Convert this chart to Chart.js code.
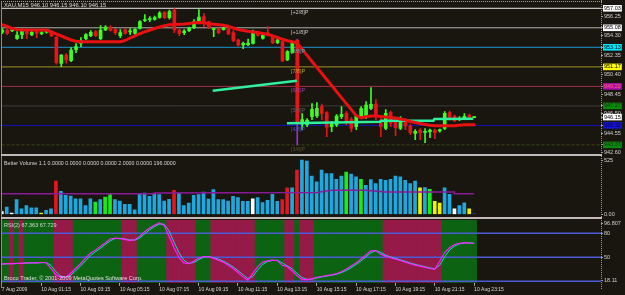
<!DOCTYPE html>
<html><head><meta charset="utf-8">
<script src="https://cdn.jsdelivr.net/npm/chart.js@4.4.1/dist/chart.umd.min.js"></script>
<style>
html,body{margin:0;padding:0;background:#18160e;width:625px;height:295px;overflow:hidden;position:relative;}
.p{position:absolute;left:0;width:625px;}
canvas{display:block;}
.ln{position:absolute;}
</style></head><body>
<div class="p" style="top:0;height:155px"><canvas id="main" width="625" height="155"></canvas></div>
<div class="p" style="top:155px;height:62px"><canvas id="vol" width="625" height="62"></canvas></div>
<div class="p" style="top:217px;height:78px"><canvas id="rsi" width="625" height="78"></canvas></div>
<div class="ln" style="left:1px;top:1px;width:601px;border-top:1px dotted #a0a0a0"></div>
<div class="ln" style="left:1px;top:1px;width:1px;height:287px;background:#8c8c8c"></div>
<div class="ln" style="left:601px;top:0;height:289px;border-left:1px dotted #9a9a9a"></div>
<div class="ln" style="left:1px;top:154px;width:601px;height:2px;background:#bcbcbc"></div>
<div class="ln" style="left:1px;top:217px;width:601px;height:2px;background:#c4b8b8"></div>
<script>
// ---------------- DATA ----------------
const X_TICK_AT = [0,8,16,24,32,40,48,56,64,72,80,88,96];
const X_TICK_LABELS = ["7 Aug 2009","10 Aug 01:15","10 Aug 03:15","10 Aug 05:15","10 Aug 07:15","10 Aug 09:15","10 Aug 11:15","10 Aug 13:15","10 Aug 15:15","10 Aug 17:15","10 Aug 19:15","10 Aug 21:15","10 Aug 23:15"];

const OPEN = [954.65,954.85,954.80,953.99,954.39,954.69,954.37,954.75,954.50,954.65,
954.70,954.13,951.53,952.35,951.80,952.90,953.53,953.99,954.30,954.70,
954.00,954.86,955.16,954.93,954.30,954.87,954.68,954.53,955.03,955.80,
955.90,955.92,956.13,956.63,956.10,956.86,954.86,954.60,954.80,955.10,
955.76,956.20,955.70,954.90,955.00,954.90,954.96,954.59,953.86,953.36,
953.40,953.53,954.60,954.03,954.60,954.19,953.60,953.69,951.86,952.63,
953.86,945.45,945.40,946.19,946.26,947.19,946.59,945.19,945.36,946.19,
946.53,945.92,945.19,946.30,946.19,947.03,947.46,945.86,945.03,946.63,
945.86,945.03,945.86,945.26,944.53,944.86,944.63,944.70,944.86,944.76,
945.03,946.59,946.26,945.90,946.10,946.36,946.10];
const HIGH = [955.00,955.00,955.00,954.69,954.95,954.80,954.75,954.85,954.70,954.85,
954.80,954.20,952.40,952.50,953.10,953.50,954.10,954.50,954.80,954.80,
955.30,955.30,955.30,955.00,954.90,955.00,955.00,955.00,955.80,956.40,
956.20,956.25,956.70,956.70,956.85,957.00,954.95,954.90,955.15,955.90,
956.90,956.50,955.75,955.00,955.05,955.15,955.00,954.80,953.95,953.65,
953.95,954.86,954.75,954.45,955.20,954.30,953.95,953.80,952.80,953.60,
953.95,946.50,946.00,947.50,947.60,947.45,946.70,945.70,946.40,947.20,
946.70,946.10,946.40,947.20,947.70,949.09,947.90,946.00,946.90,946.75,
946.00,946.20,946.00,945.40,944.90,945.00,945.00,944.95,944.95,944.95,
946.70,946.75,946.35,946.20,946.50,946.45,946.15];
const LOW = [954.50,954.40,954.70,953.93,954.00,954.00,954.30,954.10,954.40,954.55,
954.20,951.45,951.20,951.55,951.70,952.60,953.20,953.90,954.20,954.20,
953.90,954.80,954.75,954.40,954.10,954.45,954.40,954.40,954.95,955.70,
955.70,955.85,956.05,956.00,955.95,954.60,954.30,954.40,954.70,955.00,
955.70,955.20,955.00,954.20,954.50,954.85,954.40,953.70,953.25,953.00,
953.30,953.45,954.25,953.95,954.35,953.50,953.50,951.70,951.80,952.55,
943.36,944.90,945.20,945.90,946.10,945.90,944.20,944.70,945.20,946.00,
945.40,944.70,944.90,946.10,946.00,946.90,945.90,944.20,944.90,945.20,
944.30,944.90,944.90,944.40,943.90,943.90,943.60,944.10,944.00,944.65,
944.90,945.85,945.70,945.80,945.90,945.95,946.10];
const CLOSE = [954.85,954.53,954.85,954.36,954.76,954.46,954.63,954.53,954.60,954.72,
954.27,951.59,952.36,951.86,952.86,953.20,953.80,954.40,954.62,954.30,
954.86,955.16,954.83,954.60,954.60,954.53,954.72,954.93,955.69,955.90,
956.00,956.10,956.56,956.10,956.70,954.86,954.53,954.76,955.06,955.70,
956.16,955.60,955.10,954.95,954.60,955.03,954.46,953.79,953.36,953.53,
953.55,954.69,954.33,954.36,954.45,953.59,953.86,951.76,952.69,953.53,
945.69,945.90,945.85,946.93,947.03,946.53,945.13,945.53,946.26,946.43,
945.69,945.03,946.26,947.00,947.36,947.43,946.19,945.19,946.53,945.53,
945.09,945.99,945.26,944.59,944.73,944.60,944.73,944.86,944.60,944.90,
946.53,946.13,945.79,946.00,946.23,946.03,946.15];
const MA = [955.39,955.21,955.01,954.91,954.86,954.86,954.86,954.86,954.86,954.86,
954.66,954.46,954.26,954.06,953.86,953.73,953.69,953.69,953.69,953.69,
953.69,953.69,953.69,953.69,953.69,953.81,954.06,954.28,954.50,954.69,
954.84,955.01,955.16,955.28,955.38,955.41,955.43,955.45,955.51,955.58,
955.62,955.58,955.49,955.43,955.38,955.33,955.23,955.06,954.90,954.82,
954.73,954.66,954.60,954.51,954.41,954.28,954.11,953.93,953.78,953.68,
953.56,952.92,952.32,951.71,951.11,950.51,949.91,949.31,948.70,948.10,
947.50,946.90,946.30,946.06,946.18,946.26,946.26,946.21,946.16,946.11,
946.06,945.96,945.86,945.71,945.61,945.51,945.41,945.33,945.29,945.29,
945.29,945.29,945.29,945.34,945.38,945.39,945.39];
const GREEN_A_X = [42.8, 59.9];
const GREEN_A_Y = [948.79, 949.79];
const GREEN_B_X = [57.9, 76.9, 77.1, 87.7, 87.9, 95.8];
const GREEN_B_Y = [945.53, 945.69, 945.79, 945.79, 945.96, 945.98];

const MURREY_LEVELS = [957.03, 955.08, 953.13, 951.17, 949.22, 947.27, 945.32, 943.37];
const MURREY_NAMES = ["[+2/8]P","[+1/8]P","[8/8]P","[7/8]P","[6/8]P","[5/8]P","[4/8]P","[3/8]P"];
const PRICE_TICKS = [957.03,956.25,955.08,954.30,953.13,952.35,951.17,950.40,949.22,948.45,947.27,946.50,946.15,945.32,944.55,943.37,942.60];
const PRICE_TICK_LABELS = ["957.03","956.25","955.08","954.30","953.13","952.35","951.17","950.40","949.22","948.45","947.27","946.50","946.15","945.32","944.55","943.37","942.60"];

const VOLUME = [29,71,13,143,55,87,65,65,13,39,
55,321,224,185,178,152,152,87,152,120,
143,168,191,143,130,97,97,45,201,207,
175,201,191,130,146,233,207,87,110,185,
191,217,149,240,143,143,130,175,162,127,
127,152,162,114,136,194,127,143,256,256,
428,525,515,369,314,428,395,395,340,369,
408,389,363,340,282,337,298,340,330,340,
369,363,330,298,321,256,259,243,126,110,
256,194,55,87,113,55,10];
// n normal, c climax high, w climax low, h churn, l low volume, x current
const VOL_TYPE = "wnwnnnnnln"+"ncnnnnnnnh"+"nhhnnnnnnn"+"nnnnncnnnn"+"nnnnnnnnnn"+"nwnnnnnccn"+"cnnnnnnnnn"+"hnnhnnnnnn"+"nnnnnlnhll"+"nnwnnlx";
const VOL_MA_X = [0,31,31,64,67,74,78,92,92,96];
const VOL_MA_Y = [201,201,207,211,233,233,217,217,201,201];
const VOL_TICKS = [525, 0];
const VOL_TICK_LABELS = ["525","0.00"];

const RSI = [41.5,42,42,42.5,42.5,43,43,43,43.5,43.5,
36,28,25,25,30,36,42,49,55,59,
63.5,68,73,74,73.5,72.5,71,72,76,82,
86.5,90,93,90,76,62,50,43,42,45,
49,51,50.5,49,46.5,44,40,36,31,25.5,
21.5,30,38,44,45.5,46.5,46,40,38.5,33,
27,22.5,22.2,23,25,26,27,28,29.5,32,
35,39,43,48,53,58,58.5,54,51.5,49.5,
47.8,46,44,42,40.3,39,37.5,36,35,45,
56,62,66,67.5,68.5,67.8,67.363];
const RSI_SIGNAL = [41.5,41.8,42,42.2,42.5,42.8,43,43,43.3,43.5,
40,32,26.5,25,27.5,33,39,45.5,52,57,
61,66,70.5,73.5,73.8,73,71.8,71.5,74,79,
84.3,88.3,91.5,91.5,83,69,56,46.5,42.5,43.5,
47,50,50.8,49.8,47.8,45.3,42,38,33.5,28.3,
23.5,25.8,34,41,44.8,46,46.3,43,39.3,35.8,
30,24.8,22.4,22.6,24,25.5,26.5,27.5,28.8,30.8,
33.5,37,41,45.5,50.5,55.5,58.3,56.3,52.8,50.5,
48.7,46.9,45,43,41.2,39.7,38.3,36.8,35.5,40,
50.5,59,64,66.8,68,68.2,67.729];
const RSI_RED_ZONES = [[2,2],[4,4],[11,14],[25,27],[34,39],[43,51],[58,59],[61,63],[78,89]];
const RSI_LEVELS = [80, 50, 20];
const RSI_TICK_AT = [91.8, 80, 50, 20.7];
const RSI_TICK_LABELS = ["96.807","80","50","18.11"];

// ---------------- STYLE / LAYOUT ----------------
const FONT = "'Liberation Sans', Arial, sans-serif";
const X_MIN = -0.163, X_MAX = 121.79;
const PRICE_MIN = 942.56, PRICE_MAX = 957.66;
const VOL_MIN = 0, VOL_MAX = 554;
const RSI_MIN = 18.11, RSI_MAX = 96.9;
const UP = '#3cff1e', DN = '#e8141a';
const MURREY_LINE_COLORS = ['#e8e8e8','#b0b0b0','#1e96d2','#a09628','#a0304a','#3c3c3c','#1414c0','#3e4a16'];
const MURREY_TEXT_COLORS = ['#c8c8c8','#c0c0c0','#5aa8c0','#b8a832','#a040a8','#606060','#5050c8','#50502e'];
const PRICE_BOX = {"957.03":['#ffffff','#000'],"955.08":['#ffffff','#000'],"953.13":['#00e8ff','#000'],"951.17":['#ffff00','#000'],"949.22":['#b010b0','#ff6060'],"947.27":['#0a8a0a','#1c2c1c'],"946.15":['#ffffff','#000'],"945.32":['#1414d0','#000050'],"943.37":['#0a8a0a','#1c2c1c']};
const VOL_COLORS = {n:'#1ea8e0', c:'#e8141e', w:'#ffffff', h:'#14f014', l:'#f0f000', x:'#3030a0'};
const IDX = OPEN.map((_, i) => i);

const textPlugin = {
  id: 'panelText',
  afterDraw(chart, args, opts) {
    const ctx = chart.ctx;
    (opts.items || []).forEach(t => {
      ctx.save();
      ctx.font = t.size + 'px ' + FONT;
      ctx.fillStyle = t.color;
      ctx.textBaseline = 'middle';
      ctx.textAlign = 'left';
      ctx.fillText(t.text, t.x, t.y);
      ctx.restore();
    });
  }
};
const murreyPlugin = {
  id: 'murreyLabels',
  afterDatasetsDraw(chart) {
    const ctx = chart.ctx, xs = chart.scales.x, ys = chart.scales.y;
    ctx.save();
    ctx.font = '5.5px ' + FONT;
    ctx.textBaseline = 'middle';
    ctx.textAlign = 'left';
    MURREY_LEVELS.forEach((lv, k) => {
      ctx.fillStyle = MURREY_TEXT_COLORS[k];
      ctx.fillText(MURREY_NAMES[k], xs.getPixelForValue(58.7), ys.getPixelForValue(lv) + 4.3);
    });
    ctx.restore();
  }
};

function xAxis(show) {
  const a = { type: 'linear', min: X_MIN, max: X_MAX, offset: false, display: show, grid: { offset: false } };
  if (show) {
    Object.assign(a, {
      position: 'bottom',
      afterFit(s) { s.height = 12.2; },
      afterBuildTicks(s) { s.ticks = X_TICK_AT.map(v => ({ value: v })); },
      ticks: { autoSkip: false, maxRotation: 0, align: 'start', padding: 1, color: '#d8d8d8',
               font: { family: FONT, size: 5 }, callback: (v, i) => X_TICK_LABELS[i] },
      grid: { offset: false, drawOnChartArea: false, drawTicks: true, tickLength: 3, color: '#a8a8a8' },
      border: { display: false }
    });
  }
  return a;
}
function yAxis(min, max, tickAt, labels, extra) {
  return Object.assign({
    position: 'right', min, max,
    afterFit(s) { s.width = 24; s.paddingTop = 0; s.paddingBottom = 0; },
    afterBuildTicks(s) { s.ticks = tickAt.map(v => ({ value: v })); },
    ticks: { autoSkip: false, padding: 1, color: '#d0d0d0', font: { family: FONT, size: 5.5 },
             callback: (v, i) => labels[i] },
    grid: { drawOnChartArea: false, drawTicks: true, tickLength: 2, color: '#a0a0a0' },
    border: { display: false }
  }, extra || {});
}
const common = { responsive: false, animation: false, events: [], devicePixelRatio: 1 };

// ---------------- MAIN PRICE PANEL ----------------
const mainDatasets = [];
MURREY_LEVELS.forEach((lv, k) => mainDatasets.push({
  type: 'line', data: [{ x: X_MIN, y: lv }, { x: X_MAX, y: lv }],
  borderColor: MURREY_LINE_COLORS[k], borderWidth: 1, borderDash: k === 7 ? [3, 2] : [],
  pointRadius: 0, order: 20
}));
mainDatasets.push({
  type: 'bar', data: IDX.map(i => ({ x: i, y: [LOW[i], HIGH[i]] })),
  backgroundColor: IDX.map(i => i === 60 ? '#9a30c8' : (CLOSE[i] >= OPEN[i] ? UP : DN)),
  barThickness: 1, minBarLength: 1, grouped: false, order: 6
});
mainDatasets.push({
  type: 'bar', data: IDX.map(i => ({ x: i, y: [OPEN[i], CLOSE[i]] })),
  backgroundColor: IDX.map(i => CLOSE[i] >= OPEN[i] ? UP : DN),
  barThickness: 3, minBarLength: 1, grouped: false, order: 5
});
mainDatasets.push({
  type: 'line', data: GREEN_A_X.map((x, k) => ({ x, y: GREEN_A_Y[k] })),
  borderColor: '#30f0a0', borderWidth: 2.5, pointRadius: 0, order: 3
});
mainDatasets.push({
  type: 'line', data: GREEN_B_X.map((x, k) => ({ x, y: GREEN_B_Y[k] })),
  borderColor: '#30f0a0', borderWidth: 2.5, pointRadius: 0, order: 3
});
mainDatasets.push({
  type: 'line', data: IDX.map(i => ({ x: i, y: MA[i] })),
  borderColor: '#e81010', borderWidth: 3, pointRadius: 0, borderJoinStyle: 'round', borderCapStyle: 'round', order: 1
});

new Chart(document.getElementById('main'), {
  type: 'bar',
  data: { datasets: mainDatasets },
  plugins: [textPlugin, murreyPlugin],
  options: Object.assign({}, common, {
    layout: { padding: { left: 1, top: 2, right: 0, bottom: 2 } },
    plugins: { legend: { display: false }, tooltip: { enabled: false },
      panelText: { items: [{ text: 'XAU,M15 946.10 946.15 946.10 946.15', x: 4, y: 5.3, size: 5.8, color: '#d8d8d8' }] } },
    scales: {
      x: xAxis(false),
      y: yAxis(PRICE_MIN, PRICE_MAX, PRICE_TICKS, PRICE_TICK_LABELS, {}) 
    }
  })
});
// boxes on the price axis
(function () {
  const c = Chart.getChart('main');
  const t = c.options.scales.y.ticks;
  t.showLabelBackdrop = (ctx) => !!PRICE_BOX[PRICE_TICK_LABELS[ctx.index]];
  t.backdropColor = (ctx) => (PRICE_BOX[PRICE_TICK_LABELS[ctx.index]] || ['rgba(0,0,0,0)'])[0];
  t.color = (ctx) => (PRICE_BOX[PRICE_TICK_LABELS[ctx.index]] || [0, '#d0d0d0'])[1];
  t.backdropPadding = { left: 1, right: 1, top: 0, bottom: 0 };
  c.update('none');
})();

// ---------------- VOLUME PANEL ----------------
new Chart(document.getElementById('vol'), {
  type: 'bar',
  data: { datasets: [
    { type: 'line', data: VOL_MA_X.map((x, k) => ({ x, y: VOL_MA_Y[k] })), borderColor: '#8a1a9a', borderWidth: 1.5, pointRadius: 0, order: 1 },
    { type: 'bar', data: IDX.map(i => ({ x: i, y: VOLUME[i] })), backgroundColor: IDX.map(i => VOL_COLORS[VOL_TYPE[i]]),
      barThickness: 3, grouped: false, order: 2 }
  ] },
  plugins: [textPlugin],
  options: Object.assign({}, common, {
    layout: { padding: { left: 1, top: 2, right: 0, bottom: 2.5 } },
    plugins: { legend: { display: false }, tooltip: { enabled: false },
      panelText: { items: [{ text: 'Better Volume 1.1 0.0000 0.0000 0.0000 0.0000 2.0000 0.0000 196.0000', x: 4, y: 8.3, size: 5.3, color: '#d8d8d8' }] } },
    scales: { x: xAxis(false), y: yAxis(VOL_MIN, VOL_MAX, VOL_TICKS, VOL_TICK_LABELS) }
  })
});

// ---------------- RSI PANEL ----------------
const inRed = i => RSI_RED_ZONES.some(z => i >= z[0] && i <= z[1]);
const rsiDatasets = [
  { type: 'bar', data: IDX.map(i => ({ x: i, y: [RSI_MIN, RSI_MAX] })), backgroundColor: IDX.map(i => inRed(i) ? '#951a48' : '#0c6412'),
    barThickness: 5, grouped: false, order: 20 }
];
RSI_LEVELS.forEach(lv => rsiDatasets.push({ type: 'line', data: [{ x: X_MIN, y: lv }, { x: X_MAX, y: lv }],
  borderColor: '#4b5bd6', borderWidth: 1.5, pointRadius: 0, order: 10 }));
rsiDatasets.push({ type: 'line', data: IDX.map(i => ({ x: i, y: RSI_SIGNAL[i] })), borderColor: '#20d0d0', borderWidth: 1, pointRadius: 0, order: 3 });
rsiDatasets.push({ type: 'line', data: IDX.map(i => ({ x: i, y: RSI[i] })), borderColor: '#ff20ff', borderWidth: 1.2, pointRadius: 0, order: 2 });

new Chart(document.getElementById('rsi'), {
  type: 'bar',
  data: { datasets: rsiDatasets },
  plugins: [textPlugin],
  options: Object.assign({}, common, {
    layout: { padding: { left: 1, top: 2.85, right: 0, bottom: 0 } },
    plugins: { legend: { display: false }, tooltip: { enabled: false },
      panelText: { items: [
        { text: 'RSI(2) 67.363 67.729', x: 4, y: 8.3, size: 5.5, color: '#d8d8d8' },
        { text: 'Broco Trader, \u00a9 2001-2009 MetaQuotes Software Corp.', x: 4, y: 61.7, size: 5.6, color: '#e0e0e0' }
      ] } },
    scales: { x: xAxis(true), y: yAxis(RSI_MIN, RSI_MAX, RSI_TICK_AT, RSI_TICK_LABELS) }
  })
});
</script>
</body></html>
